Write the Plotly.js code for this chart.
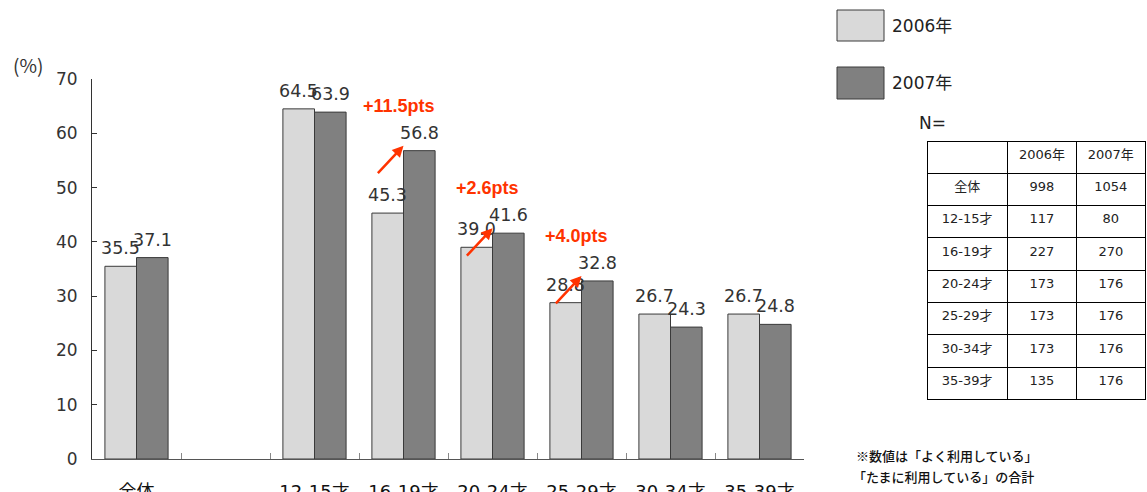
<!DOCTYPE html>
<html><head><meta charset="utf-8">
<script src="https://cdn.plot.ly/plotly-3.0.1.min.js"></script>
<style>html,body{margin:0;padding:0;background:#fff}</style>
</head><body><div id="chart" style="width:1147px;height:492px"></div>
<script>
// ---- data ----
const categories = ['全体', ' ', '12-15才', '16-19才', '20-24才', '25-29才', '30-34才', '35-39才'];
const values2006 = [35.5, null, 64.5, 45.3, 39.0, 28.8, 26.7, 26.7];
const values2007 = [37.1, null, 63.9, 56.8, 41.6, 32.8, 24.3, 24.8];
const seriesNames = ['2006年', '2007年'];
const highlightCategories = ['16-19才', '20-24才', '25-29才'];
const tableHeader = ['', '2006年', '2007年'];
const tableRowLabels = ['全体', '12-15才', '16-19才', '20-24才', '25-29才', '30-34才', '35-39才'];
const tableN2006 = [998, 117, 227, 173, 173, 173, 135];
const tableN2007 = [1054, 80, 270, 176, 176, 176, 176];
const yUnitLabel = '(%)';
const nLabel = 'N=';
const footnoteLines = ['※数値は「よく利用している」', '「たまに利用している」の合計'];

// ---- style ----
const W = 1147, H = 492;
const plot = {l: 92, r: 804, t: 79, b: 459};
const colors = ['#d9d9d9', '#808080'];
const outline = '#3a3a3a';
const red = '#ff3300';
const FONT = '"DejaVu Sans", "Noto Sans CJK JP", sans-serif';
const JFONT = '"Noto Sans CJK JP", sans-serif';
const bargap = 0.29;
const px = x => x / W;
const py = y => 1 - y / H;

const traces = [values2006, values2007].map((vals, i) => ({
  type: 'bar', name: seriesNames[i], x: categories, y: vals,
  marker: {color: colors[i], line: {color: outline, width: 1}},
  hoverinfo: 'x+y+name', showlegend: false
}));

traces.push({
  type: 'table',
  domain: {x: [px(927), px(1146)], y: [py(402), py(141)]},
  columnwidth: [81, 70, 69],
  header: {values: tableHeader, height: 32.3, align: 'center',
    line: {color: '#000', width: 1}, fill: {color: '#fff'},
    font: {family: FONT, size: 13, color: '#222'}},
  cells: {values: [tableRowLabels, tableN2006, tableN2007], height: 32.3, align: 'center',
    line: {color: '#000', width: 1}, fill: {color: '#fff'},
    font: {family: FONT, size: 13, color: '#222'}}
});

const slotW = (plot.r - plot.l) / categories.length;
const barHalf = slotW * (1 - bargap) / 4;
const annotations = [];
[values2006, values2007].forEach((vals, i) => {
  vals.forEach((v, j) => {
    if (v === null) return;
    annotations.push({x: categories[j], y: v, xref: 'x', yref: 'y', text: v.toFixed(1),
      showarrow: false, yanchor: 'bottom', xanchor: 'center', xshift: (i === 0 ? -1 : 1) * barHalf,
      yshift: 6, font: {family: FONT, size: 17.5, color: '#333'}});
  });
});
highlightCategories.forEach(c => {
  const j = categories.indexOf(c);
  const diff = values2007[j] - values2006[j];
  annotations.push({x: c, y: values2007[j], xref: 'x', yref: 'y', text: '+' + diff.toFixed(1) + 'pts',
    showarrow: false, yanchor: 'bottom', xanchor: 'center', xshift: -5, yshift: 33,
    font: {family: '"Liberation Sans", Arial, sans-serif', size: 18, color: red, weight: 'bold'}});
  annotations.push({x: c, y: values2007[j], xref: 'x', yref: 'y', text: '', showarrow: true,
    ax: -27, ay: 29, arrowhead: 2, arrowsize: 0.9, arrowwidth: 2.5, arrowcolor: red, yshift: 5});
});
// legend texts
seriesNames.forEach((n, i) => {
  annotations.push({xref: 'paper', yref: 'paper', x: px(890), y: py(i === 0 ? 26 : 83), text: n,
    showarrow: false, xanchor: 'left', yanchor: 'middle', font: {family: FONT, size: 17, color: '#222'}});
});
annotations.push({xref: 'paper', yref: 'paper', x: px(933), y: py(123), text: nLabel, showarrow: false,
  xanchor: 'center', yanchor: 'middle', font: {family: FONT, size: 17, color: '#222'}});
annotations.push({xref: 'paper', yref: 'paper', x: px(28), y: py(64), text: yUnitLabel, showarrow: false,
  xanchor: 'center', yanchor: 'middle', font: {family: JFONT, size: 19, color: '#333'}});
footnoteLines.forEach((t, i) => {
  annotations.push({xref: 'paper', yref: 'paper', x: px(i === 0 ? 947 : 943), y: py(i === 0 ? 455 : 476), text: t,
    showarrow: false, xanchor: 'center', yanchor: 'middle', font: {family: JFONT, size: 13, color: '#111', weight: 500}});
});

const shapes = colors.map((c, i) => ({
  type: 'rect', xref: 'paper', yref: 'paper',
  x0: px(837), x1: px(884), y0: py(i === 0 ? 41 : 99), y1: py(i === 0 ? 10 : 67),
  fillcolor: c, line: {color: outline, width: 1}
}));

const layout = {
  width: W, height: H, margin: {l: 0, r: 0, t: 0, b: 0},
  paper_bgcolor: '#fff', plot_bgcolor: '#fff',
  barmode: 'group', bargap: bargap, bargroupgap: 0,
  showlegend: false,
  xaxis: {domain: [px(plot.l), px(plot.r)], type: 'category', categoryorder: 'array', categoryarray: categories,
    tickson: 'boundaries', ticks: 'inside', ticklen: 6, tickcolor: '#888', showline: true, linecolor: '#555',
    linewidth: 1, showgrid: false, zeroline: false, ticklabelstandoff: 16,
    tickfont: {family: FONT, size: 18, color: '#111'}, fixedrange: true},
  yaxis: {domain: [py(plot.b), py(plot.t)], range: [0, 70], dtick: 10, ticks: 'inside', ticklen: 5,
    tickcolor: '#333', showline: true, linecolor: '#333', linewidth: 1, showgrid: false, zeroline: false,
    ticklabelstandoff: 10, tickfont: {family: FONT, size: 17, color: '#333'}, fixedrange: true},
  annotations: annotations, shapes: shapes
};
Plotly.newPlot('chart', traces, layout, {displayModeBar: false, staticPlot: true});
</script></body></html>
